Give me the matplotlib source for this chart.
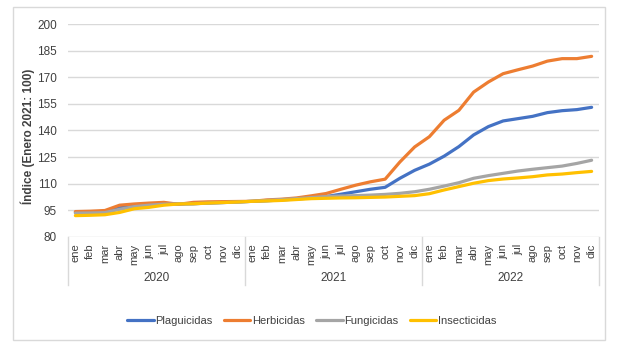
import matplotlib
matplotlib.use('Agg')
import matplotlib.pyplot as plt
import matplotlib.transforms as mtransforms
from matplotlib.patches import Rectangle

plt.rcParams['font.family'] = ['Liberation Sans', 'DejaVu Sans']

# ------------------- DATA ----------------
meses = ['ene', 'feb', 'mar', 'abr', 'may', 'jun',
         'jul', 'ago', 'sep', 'oct', 'nov', 'dic']
anios = ['2020', '2021', '2022']

plaguicidas = [93.8, 94.0, 94.3, 96.3, 97.5, 98.3, 98.8, 98.5, 98.6, 99.0, 99.3, 99.6,
               100.0, 100.3, 100.8, 101.3, 101.9, 102.7, 104.0, 105.4, 106.8, 107.9, 113.0, 117.5,
               121.0, 125.5, 130.9, 137.5, 142.2, 145.4, 146.7, 148.0, 150.1, 151.2, 151.8, 153.1]
herbicidas = [94.2, 94.4, 94.8, 97.8, 98.5, 99.0, 99.4, 98.3, 99.4, 99.7, 99.8, 99.9,
              100.0, 100.8, 101.2, 101.9, 103.1, 104.4, 106.8, 109.1, 111.0, 112.5, 122.2, 130.7,
              136.5, 145.8, 151.4, 161.7, 167.4, 172.1, 174.3, 176.4, 179.2, 180.6, 180.6, 181.9]
fungicidas = [93.3, 93.4, 93.6, 95.5, 97.0, 97.8, 98.4, 98.5, 98.7, 99.0, 99.3, 99.6,
              100.0, 100.5, 101.0, 101.5, 102.1, 102.7, 103.0, 103.2, 103.5, 103.9, 104.5, 105.4,
              106.8, 108.6, 110.5, 113.0, 114.5, 115.8, 117.1, 118.1, 119.0, 119.9, 121.4, 123.2]
insecticidas = [91.9, 92.1, 92.4, 93.7, 95.8, 96.6, 97.8, 98.5, 98.6, 99.0, 99.3, 99.6,
                100.0, 100.2, 100.5, 101.0, 101.5, 101.7, 101.9, 102.0, 102.2, 102.4, 102.8, 103.2,
                104.3, 106.4, 108.3, 110.2, 111.7, 112.6, 113.2, 113.9, 114.9, 115.4, 116.2, 116.9]

series = [('Plaguicidas', plaguicidas, '#4472C4'),
          ('Herbicidas', herbicidas, '#ED7D31'),
          ('Fungicidas', fungicidas, '#A5A5A5'),
          ('Insecticidas', insecticidas, '#FFC000')]

# ------------------- PLOT ----------------
W, H = 622, 352
fig = plt.figure(figsize=(W / 100, H / 100), dpi=100)
ax = fig.add_axes([68 / W, 1 - 236.7 / H, (599 - 68) / W, 212.4 / H])

x = list(range(len(meses) * len(anios)))
for name, vals, col in series:
    ax.plot(x, vals, color=col, lw=2.3, label=name, solid_capstyle='round')

ax.set_xlim(-0.5, len(x) - 0.5)
ax.set_ylim(80, 200)
ax.set_yticks(range(80, 201, 15))
ax.grid(axis='y', color='#D9D9D9', lw=1)
ax.set_axisbelow(True)
for s in ax.spines.values():
    s.set_visible(False)
ax.tick_params(axis='both', length=0, labelsize=8.5, colors='#404040')
ax.tick_params(axis='y', pad=8)
ax.set_xticks(x)
ax.set_xticklabels(meses * len(anios), rotation=90, fontsize=8)
ax.tick_params(axis='x', pad=5)
ax.set_ylabel('Índice (Enero 2021: 100)', fontsize=8.5, fontweight='bold',
              color='#404040')
ax.yaxis.set_label_coords(-0.062, 0.474)

# multi-level category axis
trans = mtransforms.blended_transform_factory(ax.transData, ax.transAxes)
for b in [-0.5, 11.5, 23.5, 35.5]:
    ax.plot([b, b], [0, -0.227], transform=trans, color='#D9D9D9', lw=1, clip_on=False)
for i, a in enumerate(anios):
    ax.text(i * 12 + 5.5, -0.194, a, transform=trans, ha='center', va='center',
            fontsize=8.5, color='#404040')

fig.legend(loc='center', bbox_to_anchor=(0.501, 1 - 321 / H), ncol=4, frameon=False,
           fontsize=8, handlelength=2.4, handletextpad=0.15, columnspacing=1.0,
           labelcolor='#404040')

fig.patches.append(Rectangle((13 / W, 1 - 340 / H), (605 - 13) / W, (340 - 7) / H,
                             transform=fig.transFigure, fill=False,
                             edgecolor='#D9D9D9', lw=1))

fig.savefig('out.png', dpi=100)
